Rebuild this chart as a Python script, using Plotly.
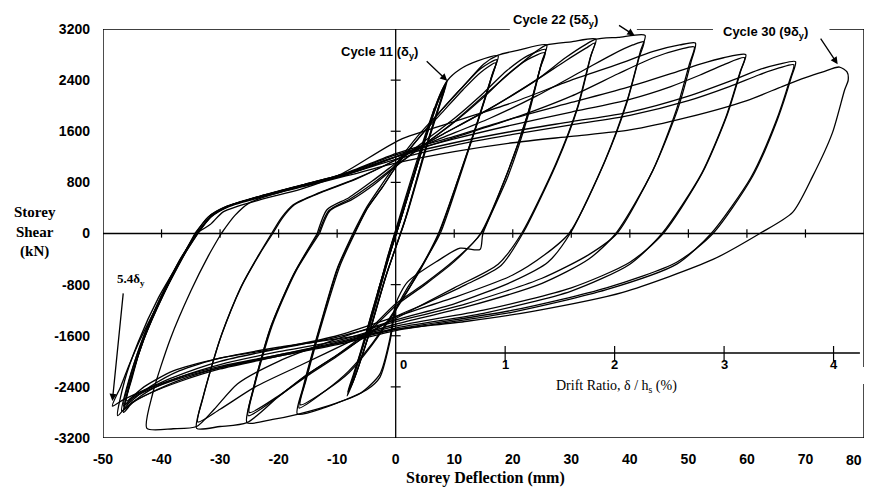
import plotly.graph_objects as go

# ---------------- axis / tick data ----------------
x_ticks = [-50, -40, -30, -20, -10, 0, 10, 20, 30, 40, 50, 60, 70, 80]
y_ticks = [-3200, -2400, -1600, -800, 0, 800, 1600, 2400, 3200]
drift_ticks = [0, 1, 2, 3, 4]            # drift ratio (%)
storey_height_mm = 1870                  # h_s used for drift ratio axis
drift_axis_level = -1870                 # kN level at which drift axis is drawn

# ---------------- hysteresis data (storey deflection mm, storey shear kN) ----------------
cycle_defl = [
    [0, 1.5, 3.0, 2.3, 0.4, -1.4, -3.0, -2.3, -0.3],
    [-0.3, 2.4, 5.0, 4.1, 0.9, -2.3, -5.0, -4.0, -0.6],
    [-0.6, 3.0, 6.6, 5.6, 1.3, -2.8, -6.5, -5.4, -0.9],
    [-0.9, 2.0, 5.0, 7.5, 8.8, 8.1, 5.5, 1.8, -1.5, -5.0, -7.4, -8.3, -7.3, -4.4, -1.4],
    [-1.4, 1.8, 4.8, 7.3, 8.5, 7.8, 5.2, 1.6, -1.6, -4.9, -7.3, -8.2, -7.2, -4.2, -1.2],
    [-1.2, 2.0, 5.0, 7.4, 8.4, 7.7, 5.0, 1.5, -1.8, -5.0, -7.2, -8.0, -7.0, -4.2, -1.5],
    [-1.5, 1.2, 4.0, 6.8, 8.8, 11.0, 14.0, 17.5, 16.6, 14.2, 11.0, 7.6, 4.5, 2.0, 0.0, -1.0, -2.7, -5.0, -8.3, -12.0, -16.8, -15.8, -12.6, -10.0, -7.3],
    [-7.3, -4.9, -2.5, 0.0, 4.0, 8.0, 11.5, 14.5, 17.3, 16.4, 14.0, 10.8, 7.4, 4.0, 0.0, -4.0, -8.0, -12.0, -16.5, -15.5, -12.4, -9.8, -7.1],
    [-7.1, -4.8, -2.3, 0.0, 4.0, 8.0, 11.5, 14.5, 17.1, 16.3, 13.9, 10.7, 7.3, 3.8, 0.0, -4.0, -8.0, -12.0, -16.3, -15.3, -12.2, -9.5, -7.0],
    [-7.0, -4.8, -2.3, 0.0, 4.0, 8.0, 12.0, 15.0, 17.5, 21.0, 25.8, 25.0, 22.8, 19.2, 14.9, 14.4, 11.0, 7.3, 2.0, 0.0, -1.0, -2.7, -6.0, -10.0, -16.8, -21.0, -25.4, -24.5, -21.5, -17.5, -13.4],
    [-13.4, -11.7, -8.0, -4.0, 0.0, 5.0, 10.0, 15.0, 19.0, 22.5, 25.6, 24.8, 22.5, 18.8, 14.6, 10.0, 5.0, 0.0, -5.0, -10.0, -15.0, -20.0, -25.2, -24.3, -21.3, -17.3, -13.2],
    [-13.2, -11.4, -7.8, -3.8, 0.0, 5.0, 10.0, 15.0, 19.0, 22.5, 25.5, 24.7, 22.4, 18.7, 14.5, 10.0, 5.0, 0.0, -5.0, -10.0, -15.0, -20.0, -25.0, -24.1, -21.1, -17.1, -13.0],
    [-13.0, -11.2, -7.5, -3.5, 0.0, 5.0, 10.0, 15.0, 20.0, 24.0, 25.8, 30.0, 34.2, 33.4, 31.2, 27.5, 21.7, 18.0, 12.0, 5.0, 0.0, -5.0, -10.0, -15.0, -20.0, -25.4, -30.0, -34.0, -33.0, -30.0, -26.5, -23.5, -21.2],
    [-21.2, -19.5, -17.5, -13.0, -7.0, 0.0, 8.0, 16.0, 24.0, 29.0, 32.5, 34.0, 33.2, 31.0, 27.3, 21.5, 17.5, 10.0, 0.0, -8.0, -16.0, -24.0, -30.0, -33.8, -32.8, -29.8, -26.3, -23.3, -21.0],
    [-21.0, -19.3, -17.3, -12.8, -6.8, 0.0, 8.0, 16.0, 24.0, 29.0, 32.5, 34.2, 38.0, 42.6, 41.8, 39.6, 35.8, 29.8, 26.0, 20.0, 10.0, 0.0, -10.0, -20.0, -27.0, -31.0, -34.0, -38.0, -42.5, -41.5, -38.5, -35.0, -32.0, -29.8],
    [-29.8, -27.5, -25.0, -20.0, -13.0, -6.0, 0.0, 8.0, 16.0, 24.0, 32.0, 37.0, 40.5, 42.4, 41.6, 39.4, 35.6, 29.6, 25.5, 20.0, 10.0, 0.0, -10.0, -20.0, -30.0, -38.0, -43.0, -46.5, -48.4, -47.0, -45.5, -43.6, -40.0, -36.5, -34.2],
    [-34.2, -31.7, -29.4, -23.1, -16.3, -9.5, 0.7, 10.0, 20.0, 30.0, 38.0, 44.0, 48.5, 51.2, 50.5, 48.2, 44.0, 37.8, 33.0, 25.0, 12.0, 0.0, -10.0, -20.0, -30.0, -37.0, -42.0, -45.5, -47.5, -46.3, -44.0, -40.5, -37.0, -34.3],
    [-34.3, -32.0, -29.0, -23.0, -16.0, -9.0, 0.0, 10.0, 20.0, 30.0, 38.0, 44.0, 48.5, 51.0, 50.2, 47.9, 43.9, 37.6, 33.0, 25.0, 12.0, 0.0, -10.0, -20.0, -30.0, -37.0, -42.0, -45.0, -46.5, -45.3, -43.2, -40.0, -36.8, -34.2],
    [-34.2, -32.0, -29.0, -23.0, -16.0, -9.0, 0.0, 10.0, 20.0, 30.0, 40.0, 47.0, 52.0, 56.0, 59.8, 59.0, 56.6, 52.4, 45.7, 40.0, 30.0, 15.0, 0.0, -10.0, -20.0, -30.0, -37.0, -42.0, -45.0, -46.8, -45.6, -43.4, -40.2, -36.9, -34.0],
    [-34.0, -31.5, -28.5, -22.5, -15.5, -8.5, 0.0, 10.0, 20.0, 30.0, 40.0, 47.0, 52.0, 56.0, 59.6, 58.8, 56.4, 52.2, 45.5, 40.0, 30.0, 15.0, 0.0, -10.0, -20.0, -30.0, -37.0, -42.0, -45.0, -46.3, -45.1, -43.0, -39.8, -36.6, -33.8],
    [-33.8, -31.5, -28.5, -22.5, -15.5, -8.5, 0.0, 10.0, 20.0, 30.0, 40.0, 50.0, 57.0, 62.0, 65.5, 68.3, 67.6, 65.2, 61.0, 54.2, 48.0, 36.0, 20.0, 0.0, -10.0, -20.0, -30.0, -37.0, -42.0, -45.0, -46.5, -45.3, -43.2, -40.0, -36.8, -34.0],
    [-34.0, -31.6, -28.6, -22.6, -15.6, -8.6, 0.0, 10.0, 20.0, 30.0, 40.0, 50.0, 57.0, 62.0, 65.5, 68.0, 67.3, 64.9, 60.7, 53.9, 48.0, 36.0, 20.0, 0.0, -10.0, -20.0, -30.0, -37.0, -42.0, -45.0, -46.2, -45.0, -42.9, -39.7, -36.5, -33.8],
    [-33.8, -31.5, -28.5, -22.5, -15.5, -8.5, 0.0, 10.0, 20.0, 30.0, 40.0, 50.0, 60.0, 66.0, 70.0, 73.0, 75.8, 77.1, 77.3, 76.7, 74.6, 71.2, 67.8, 62.2, 54.2, 38.8, 23.4, 12.2, 0.0, -10.0, -20.0, -30.0, -38.0, -43.0, -46.0, -45.0, -43.5],
]
cycle_shear = [
    [0, 440, 880, 690, 80, -420, -900, -700, -60],
    [-60, 700, 1480, 1220, 230, -680, -1540, -1250, -150],
    [-150, 860, 1960, 1660, 350, -850, -2010, -1680, -220],
    [-220, 600, 1480, 2160, 2390, 2170, 1420, 260, -620, -1700, -2350, -2540, -2260, -1420, -420],
    [-420, 520, 1420, 2080, 2320, 2120, 1360, 220, -650, -1680, -2320, -2480, -2200, -1350, -380],
    [-380, 560, 1450, 2100, 2270, 2080, 1300, 180, -700, -1700, -2300, -2450, -2180, -1320, -400],
    [-400, 420, 1250, 2000, 2390, 2570, 2700, 2780, 2520, 1800, 900, 0, -500, -850, -1200, -1700, -2250, -2450, -2590, -2720, -2824, -2400, -1340, -550, 0],
    [0, 420, 750, 1080, 1550, 1950, 2300, 2580, 2720, 2460, 1760, 880, 0, -600, -1180, -1720, -2150, -2460, -2730, -2330, -1300, -520, 0],
    [0, 400, 720, 1040, 1500, 1900, 2250, 2520, 2670, 2410, 1720, 860, 0, -620, -1200, -1740, -2180, -2460, -2680, -2290, -1280, -500, 0],
    [0, 400, 720, 1040, 1500, 1950, 2350, 2650, 2790, 2870, 2950, 2700, 1900, 900, 0, -250, -230, -420, -760, -1100, -1650, -2200, -2500, -2650, -2830, -2910, -2960, -2500, -1500, -650, 0],
    [0, 375, 560, 820, 1100, 1450, 1800, 2200, 2550, 2780, 2880, 2630, 1850, 880, 0, -420, -780, -1100, -1550, -1900, -2200, -2550, -2850, -2420, -1460, -620, 0],
    [0, 360, 540, 790, 1060, 1400, 1740, 2130, 2480, 2720, 2830, 2590, 1820, 860, 0, -440, -800, -1130, -1580, -1920, -2220, -2540, -2800, -2380, -1440, -600, 0],
    [0, 360, 530, 780, 1050, 1400, 1750, 2150, 2550, 2850, 2950, 3000, 3040, 2800, 2000, 1100, 0, -500, -800, -1100, -1300, -1600, -1900, -2200, -2550, -2960, -3020, -3050, -2600, -1650, -850, -350, 0],
    [0, 250, 450, 640, 850, 1150, 1550, 1950, 2400, 2700, 2900, 2980, 2740, 1960, 1080, 0, -480, -850, -1330, -1700, -2050, -2400, -2750, -2950, -2520, -1600, -820, -330, 0],
    [0, 250, 450, 640, 850, 1150, 1550, 1950, 2400, 2750, 2960, 3040, 3070, 3100, 2850, 2100, 1150, 0, -450, -750, -1100, -1350, -1650, -2000, -2350, -2750, -3020, -3055, -3050, -2500, -1650, -900, -350, 0],
    [0, 280, 480, 640, 820, 1000, 1200, 1500, 1800, 2150, 2550, 2800, 2950, 3000, 2760, 2020, 1100, 0, -330, -650, -1000, -1300, -1600, -1800, -2000, -2250, -2450, -2600, -2700, -2400, -2050, -1650, -1000, -400, 0],
    [0, 140, 343, 530, 690, 920, 1466, 1750, 2050, 2400, 2650, 2850, 2950, 2980, 2700, 1950, 1000, 0, -330, -700, -1100, -1380, -1620, -1800, -1950, -2150, -2400, -2650, -2850, -2300, -1700, -1000, -450, 0],
    [0, 260, 420, 580, 740, 900, 1200, 1500, 1800, 2150, 2500, 2750, 2880, 2920, 2660, 1920, 980, 0, -400, -780, -1150, -1420, -1680, -1850, -2050, -2250, -2450, -2650, -2800, -2300, -1700, -1000, -420, 0],
    [0, 260, 420, 590, 760, 930, 1250, 1520, 1800, 2050, 2300, 2500, 2650, 2750, 2800, 2560, 1850, 950, 0, -450, -850, -1200, -1450, -1700, -1900, -2100, -2300, -2500, -2650, -2780, -2300, -1700, -1000, -420, 0],
    [0, 270, 430, 600, 770, 940, 1230, 1480, 1700, 1900, 2100, 2300, 2480, 2640, 2750, 2520, 1820, 930, 0, -480, -900, -1250, -1480, -1720, -1920, -2120, -2320, -2500, -2640, -2740, -2250, -1650, -980, -400, 0],
    [0, 270, 430, 600, 770, 940, 1200, 1420, 1600, 1750, 1900, 2150, 2380, 2560, 2650, 2690, 2450, 1780, 900, 0, -450, -850, -1200, -1500, -1720, -1900, -2080, -2250, -2420, -2560, -2700, -2230, -1640, -980, -400, 0],
    [0, 265, 425, 590, 760, 920, 1160, 1380, 1550, 1700, 1850, 2080, 2300, 2480, 2590, 2640, 2400, 1740, 880, 0, -480, -880, -1230, -1520, -1740, -1920, -2100, -2270, -2440, -2580, -2680, -2200, -1620, -960, -390, 0],
    [0, 260, 420, 580, 740, 900, 1100, 1280, 1420, 1520, 1620, 1820, 2080, 2300, 2440, 2530, 2605, 2530, 2400, 2250, 1575, 890, 330, 0, -406, -920, -1217, -1373, -1500, -1650, -1780, -1950, -2150, -2400, -2620, -2250, -1750],
]

# ---------------- figure ----------------
X0, X1 = x_ticks[0], x_ticks[-1]
Y0, Y1 = y_ticks[0], y_ticks[-1]
BLACK = "black"

fig = go.Figure()
for xs, ys in zip(cycle_defl, cycle_shear):
    fig.add_trace(go.Scatter(
        x=xs, y=ys, mode="lines",
        line=dict(color=BLACK, width=1.3, shape="spline", smoothing=0.7),
        hoverinfo="skip", showlegend=False))

# tick marks on the internal zero axes and the drift axis
tx, ty = [], []
for v in x_ticks[1:-1]:
    if v != 0:
        tx += [v, v, None]
        ty += [-65, 65, None]
for v in y_ticks[1:-1]:
    if v != 0:
        tx += [-0.85, 0.85, None]
        ty += [v, v, None]
for d in drift_ticks[1:]:
    xv = d * storey_height_mm / 100.0
    tx += [xv, xv, None]
    ty += [drift_axis_level - 130, drift_axis_level + 110, None]
fig.add_trace(go.Scatter(x=tx, y=ty, mode="lines",
                         line=dict(color=BLACK, width=1.2),
                         hoverinfo="skip", showlegend=False))

def seg(x0, y0, x1, y1, w=1.4):
    fig.add_shape(type="line", xref="x", yref="y", x0=x0, y0=y0, x1=x1, y1=y1,
                  line=dict(color=BLACK, width=w))

# frame (with the gaps of the original)
seg(X0, Y0, X0, Y1)
seg(X0, Y0, X1, Y0)
seg(X0, Y1, 19.5, Y1)
seg(41.2, Y1, 54.2, Y1)
seg(74.1, Y1, X1, Y1)
seg(X1, Y1, X1, -2090)
seg(X1, -2355, X1, Y0)
# zero axes
seg(X0, 0, X1, 0, 1.3)
seg(0, Y0, 0, Y1, 1.3)
# drift ratio axis
seg(0, drift_axis_level, 79.3, drift_axis_level, 1.3)

ann = []
# drift tick labels
for d in drift_ticks:
    xv = d * storey_height_mm / 100.0
    ann.append(dict(x=xv + (1.3 if d == 0 else 0), y=drift_axis_level - 180,
                    text=str(d), showarrow=False, xanchor="center", yanchor="middle",
                    font=dict(family="Liberation Sans", size=13, color=BLACK, weight="bold")))
ann.append(dict(x=37.8, y=-2390, text="Drift Ratio, δ / h<sub>s</sub> (%)", showarrow=False,
                xanchor="center", yanchor="middle",
                font=dict(family="Liberation Serif", size=14, color=BLACK)))

tick_font = dict(family="Liberation Sans", size=14, color=BLACK, weight="bold")
# last x tick label drawn as an annotation so it stays inside the page
x_ticktext = [str(v) for v in x_ticks[:-1]] + [""]
ann.append(dict(x=x_ticks[-1], xref="x", yref="paper", y=-0.053, text=str(x_ticks[-1]),
                showarrow=False, xanchor="right", yanchor="middle", xshift=0, font=tick_font))

# axis titles (paper coordinates, outside the plotting area)
ann.append(dict(xref="paper", yref="paper", x=0.503, y=-0.098, text="<b>Storey Deflection (mm)</b>",
                showarrow=False, xanchor="center", yanchor="middle",
                font=dict(family="Liberation Serif", size=16, color=BLACK)))
ann.append(dict(xref="paper", yref="paper", x=-0.089, y=0.504, text="<b>Storey<br>Shear<br>(kN)</b>",
                showarrow=False, align="center", xanchor="center", yanchor="middle",
                font=dict(family="Liberation Serif", size=15, color=BLACK)))

lab_font = dict(family="Liberation Sans", size=13, color=BLACK, weight="bold")
# Cycle 11
p11x, p11y = cycle_defl[3][4], cycle_shear[3][4]
ann.append(dict(x=p11x, y=p11y, ax=-22, ay=-21, text="", showarrow=True,
                arrowhead=2, arrowsize=1.1, arrowwidth=1.3, arrowcolor=BLACK))
ann.append(dict(x=-2.7, y=2840, text="Cycle 11 (δ<sub>y</sub>)", showarrow=False,
                xanchor="center", yanchor="middle", font=lab_font))
# Cycle 22
p22x, p22y = cycle_defl[14][13], cycle_shear[14][13]
ann.append(dict(x=p22x - 1.8, y=p22y, ax=-17, ay=-11, text="", showarrow=True,
                arrowhead=2, arrowsize=1.1, arrowwidth=1.3, arrowcolor=BLACK))
ann.append(dict(xref="paper", yref="paper", x=0.595, y=1.022, xanchor="center", yanchor="middle",
                text="Cycle 22 (5δ<sub>y</sub>)", showarrow=False, font=lab_font))
# Cycle 30
p30x, p30y = cycle_defl[22][16], cycle_shear[22][16]
ann.append(dict(x=p30x - 0.3, y=p30y + 45, ax=-18, ay=-27, text="", showarrow=True,
                arrowhead=2, arrowsize=1.1, arrowwidth=1.3, arrowcolor=BLACK))
ann.append(dict(x=63.2, y=3150, text="Cycle 30 (9δ<sub>y</sub>)", showarrow=False,
                xanchor="center", yanchor="middle", font=lab_font))
# 5.4 delta_y
p54x, p54y = cycle_defl[15][28], cycle_shear[15][28]
ann.append(dict(x=p54x, y=p54y + 80, ax=11, ay=-109, text="", showarrow=True,
                arrowhead=2, arrowsize=1.1, arrowwidth=1.3, arrowcolor=BLACK))
ann.append(dict(x=-45.3, y=-720, text="<b>5.4δ<sub>y</sub></b>", showarrow=False,
                xanchor="center", yanchor="middle",
                font=dict(family="Liberation Serif", size=13, color=BLACK)))

# the page body adds an 8 px offset, so the figure is 8 px smaller and the margins compensate
fig.update_layout(
    width=864, height=479,
    margin=dict(l=95, r=8, t=21, b=49, autoexpand=False),
    paper_bgcolor="white", plot_bgcolor="white",
    showlegend=False,
    annotations=ann,
    xaxis=dict(range=[X0, X1], tickvals=x_ticks, ticktext=x_ticktext,
               showgrid=False, zeroline=False, showline=False, ticks="", automargin=False,
               tickfont=tick_font, ticklabelstandoff=11),
    yaxis=dict(range=[Y0, Y1], tickvals=y_ticks, ticktext=[str(v) for v in y_ticks],
               showgrid=False, zeroline=False, showline=False, ticks="", automargin=False,
               tickfont=tick_font, ticklabelstandoff=12),
)

fig.write_html("out.html")
